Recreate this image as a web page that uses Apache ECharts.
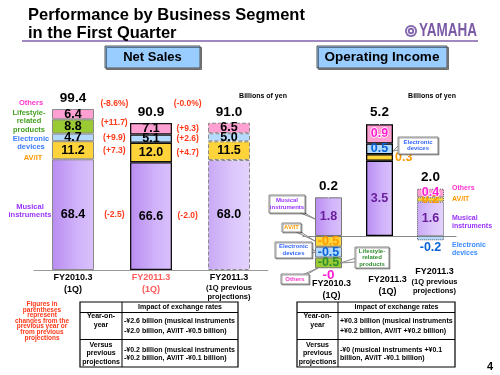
<!DOCTYPE html>
<html>
<head>
<meta charset="utf-8">
<script src="https://cdn.jsdelivr.net/npm/echarts@6/dist/echarts.min.js"></script>
<style>
  html, body { margin: 0; padding: 0; background: #fff; }
  #chart { width: 500px; height: 375px; }
</style>
</head>
<body>
<div id="chart"></div>
<script>
const FONT = '"Liberation Sans", Arial, Helvetica, sans-serif';

// periods on both charts
const periods = ['FY2010.3', 'FY2011.3', 'FY2011.3'];
const periodNotes = ['(1Q)', '(1Q)', '(1Q previous\nprojections)'];

// net sales, billions of yen (bottom to top)
const salesMusical = [68.4, 66.6, 68.0];
const salesAVIT = [11.2, 12.0, 11.5];
const salesElectronic = [4.7, 5.1, 5.0];
const salesLifestyle = [8.8, null, null];
const salesOthers = [6.4, 7.1, 6.5];
const salesTotals = [99.4, 90.9, 91.0];
// figures in parentheses: total, then the segment rows
const salesYoY = ['(-8.6%)', '(+11.7)', '(+9.9)', '(+7.3)', '(-2.5)'];
const salesVsProj = ['(-0.0%)', '(+9.3)', '(+2.6)', '(+4.7)', '(-2.0)'];

// operating income, billions of yen
const oiMusical = [1.8, 3.5, 1.6];
const oiAVIT = [-0.5, 0.3, 0.2];
const oiElectronic = [-0.5, 0.5, -0.2];
const oiLifestyle = [-0.5, null, null];
const oiOthers = [-0, 0.9, 0.4];
const oiTotals = [0.2, 5.2, 2.0];

// exchange rate notes under the charts
const fxSales = ['-¥2.6 billion (musical instruments\n-¥2.0 billion, AV/IT -¥0.5 billion)',
                 '-¥0.2 billion (musical instruments\n-¥0.2 billion, AV/IT -¥0.1 billion)'];
const fxIncome = ['+¥0.3 billion (musical instruments\n+¥0.2 billion, AV/IT +¥0.2 billion)',
                  '-¥0 (musical instruments +¥0.1\nbillion, AV/IT -¥0.1 billion)'];

const COL = {
  avit: '#ffd43b', elec: '#b4daff', life: '#9acb34', others: '#ff9fd2'
};
const purple = (light) => new echarts.graphic.LinearGradient(0, 0, 1, 0, [
  { offset: 0, color: light ? '#c9a8f6' : '#b98cf1' },
  { offset: 0.6, color: light ? '#dcc7fb' : '#d0b2fa' },
  { offset: 1, color: light ? '#e3d2fc' : '#d9c1fb' }
]);

const salesBorder = [
  { borderColor: '#8a8a8a', borderWidth: 1 },
  { borderColor: '#111', borderWidth: 1.3 },
  { borderColor: '#8a8a8a', borderWidth: 1, borderType: 'dashed' }
];
const oiBorder = [
  { borderColor: '#777', borderWidth: 1 },
  { borderColor: '#000', borderWidth: 1.3 },
  { borderColor: '#555', borderWidth: 1, borderType: 'dotted' }
];

function items(vals, colorFn, borders, extra) {
  return vals.map((v, i) => {
    if (v == null || Object.is(v, -0)) return '-';
    const it = { value: v, itemStyle: Object.assign({ color: colorFn(i) }, borders[i]) };
    if (extra && extra[i]) it.label = extra[i];
    return it;
  });
}
function posTop(arrs, cat) {
  return arrs.reduce((s, a) => s + (a[cat] > 0 ? a[cat] : 0), 0);
}
function negBottom(arrs, cat) {
  return arrs.reduce((s, a) => s + (a[cat] < 0 ? a[cat] : 0), 0);
}
function stackMid(arrs, k, cat) {
  let base = 0;
  for (let j = 0; j < k; j++) base += arrs[j][cat] || 0;
  return base + (arrs[k][cat] || 0) / 2;
}
const fmt = (v) => Object.is(v, -0) ? '-0' : v.toFixed(1);

const salesStack = [salesMusical, salesAVIT, salesElectronic, salesLifestyle, salesOthers];
const oiStack = [oiMusical, oiAVIT, oiElectronic, oiLifestyle, oiOthers];

// rows of the parenthesised figures follow the segments of the bar on their left
const headY = Math.max(...salesTotals) + 3.5;
const yoyY = [headY, stackMid(salesStack, 3, 0) + 2.5, stackMid(salesStack, 2, 0), stackMid(salesStack, 1, 0), stackMid(salesStack, 0, 0)];
const projY = [headY, stackMid(salesStack, 4, 1), stackMid(salesStack, 2, 1), stackMid(salesStack, 1, 1), stackMid(salesStack, 0, 1)];
const changeData = yoyY.map((y, k) => [1.03, y, salesYoY[k]])
  .concat(projY.map((y, k) => [1.97, y, salesVsProj[k]]));

const plain = { textBorderWidth: 0, textBorderColor: 'transparent', textShadowBlur: 0 };
const salesLabel = Object.assign({
  show: true, position: 'inside', fontFamily: FONT, fontWeight: 'bold', fontSize: 12.5, color: '#000',
  formatter: p => p.value.toFixed(1)
}, plain);
const oiLabel = (color, outline) => Object.assign({
  show: true, position: 'inside', fontFamily: FONT, fontWeight: 'bold', fontSize: 12.5, color: color,
  formatter: p => fmt(p.value)
}, plain, outline ? { textBorderColor: '#fff', textBorderWidth: 1.5 } : {});
const markLabel = (extra) => Object.assign({ show: true, fontFamily: FONT, fontWeight: 'bold', color: '#000' }, plain, extra);
const markItem = { color: '#fff', opacity: 1 };

const axisRich = {
  a: { fontFamily: FONT, fontWeight: 'bold', fontSize: 9, color: '#000', lineHeight: 12 },
  ar: { fontFamily: FONT, fontWeight: 'bold', fontSize: 9, color: '#ff5a5a', lineHeight: 12 },
  c: { fontFamily: FONT, fontWeight: 'bold', fontSize: 7.5, color: '#000', lineHeight: 8.5 }
};
function axisText(i) {
  const red = i === 1;
  const notes = periodNotes[i].split('\n');
  const first = `{${red ? 'ar' : 'a'}|${periods[i]}}`;
  if (notes.length === 1) return first + '\n' + `{${red ? 'ar' : 'a'}|${notes[0]}}`;
  return first + '\n' + notes.map(n => `{c|${n}}`).join('\n');
}
const catValues = periods.map((p, i) => p + ' ' + periodNotes[i]);

const series = [
  { type: 'bar', stack: 's', xAxisIndex: 0, yAxisIndex: 0, barWidth: 42,
    data: items(salesMusical, i => purple(i === 2), salesBorder), label: salesLabel },
  { type: 'bar', stack: 's', xAxisIndex: 0, yAxisIndex: 0, barWidth: 42,
    data: items(salesAVIT, () => COL.avit, salesBorder), label: salesLabel },
  { type: 'bar', stack: 's', xAxisIndex: 0, yAxisIndex: 0, barWidth: 42,
    data: items(salesElectronic, () => COL.elec, salesBorder), label: salesLabel },
  { type: 'bar', stack: 's', xAxisIndex: 0, yAxisIndex: 0, barWidth: 42,
    data: items(salesLifestyle, () => COL.life, salesBorder), label: salesLabel },
  { type: 'bar', stack: 's', xAxisIndex: 0, yAxisIndex: 0, barWidth: 42,
    data: items(salesOthers, () => COL.others, salesBorder), label: salesLabel },
  { type: 'scatter', xAxisIndex: 0, yAxisIndex: 0, symbolSize: 1, silent: true, z: 5,
    itemStyle: markItem,
    data: salesTotals.map((t, i) => [i, posTop(salesStack, i)]),
    label: markLabel({ position: 'top', distance: 3, fontSize: 13.5,
      formatter: p => salesTotals[p.dataIndex].toFixed(1) }) },
  { type: 'scatter', xAxisIndex: 1, yAxisIndex: 0, symbolSize: 1, silent: true, z: 5,
    itemStyle: markItem, data: changeData,
    label: markLabel({ position: 'inside', fontSize: 8.5, color: '#ff3a1a', formatter: p => p.data[2] }) },

  { type: 'bar', stack: 'o', xAxisIndex: 2, yAxisIndex: 1, barWidth: 27,
    data: items(oiMusical, i => purple(i === 2), oiBorder), label: oiLabel('#6a1f9c') },
  { type: 'bar', stack: 'o', xAxisIndex: 2, yAxisIndex: 1, barWidth: 27,
    data: items(oiAVIT, () => COL.avit, oiBorder, [null, { position: 'right', distance: 2 }, null]),
    label: oiLabel('#ff9900') },
  { type: 'bar', stack: 'o', xAxisIndex: 2, yAxisIndex: 1, barWidth: 27,
    data: items(oiElectronic, () => COL.elec, oiBorder, [null, null, { position: 'bottom', distance: 1 }]),
    label: oiLabel('#0a64d6') },
  { type: 'bar', stack: 'o', xAxisIndex: 2, yAxisIndex: 1, barWidth: 27,
    data: items(oiLifestyle, () => COL.life, oiBorder), label: oiLabel('#2f8f2f') },
  { type: 'bar', stack: 'o', xAxisIndex: 2, yAxisIndex: 1, barWidth: 27,
    data: items(oiOthers, () => COL.others, oiBorder), label: oiLabel('#ff1fd0', true) },
  { type: 'scatter', xAxisIndex: 2, yAxisIndex: 1, symbolSize: 1, silent: true, z: 5,
    itemStyle: markItem,
    data: oiTotals.map((t, i) => [i, posTop(oiStack, i)]),
    label: markLabel({ position: 'top', distance: 4, fontSize: 13.5,
      formatter: p => oiTotals[p.dataIndex].toFixed(1) }) },
  { type: 'scatter', xAxisIndex: 2, yAxisIndex: 1, symbolSize: 1, silent: true, z: 5,
    itemStyle: markItem,
    data: [[0, negBottom(oiStack, 0)]],
    label: markLabel({ position: 'bottom', distance: 0, fontSize: 13.5, color: '#ff1fd0',
      formatter: () => fmt(oiOthers[0]) }) }
];

// ---- graphic texts, boxes, callouts, tables ----
const g = [];
function txt(x, y, text, size, color, align, extra) {
  g.push({ type: 'text', x: x, y: y, silent: true, z: 10,
    style: Object.assign({ text: text, font: `bold ${size}px ${FONT}`, fill: color, align: align || 'left',
      verticalAlign: 'middle' }, extra || {}) });
}
function rect(x, y, w, h, style) {
  g.push({ type: 'rect', silent: true, z: 9, shape: { x: x, y: y, width: w, height: h }, style: style });
}
function line(x1, y1, x2, y2, color, w) {
  g.push({ type: 'line', silent: true, z: 9, shape: { x1: x1, y1: y1, x2: x2, y2: y2 },
    style: { stroke: color, lineWidth: w || 1 } });
}

txt(28, 15, 'Performance by Business Segment', 16.5, '#000');
txt(28, 33, 'in the First Quarter', 16.5, '#000');
line(22, 41, 478, 41, '#7f62a8', 1.5);

// logo
g.push({ type: 'circle', silent: true, z: 10, shape: { cx: 411, cy: 31, r: 6 }, style: { fill: '#8064ad' } });
g.push({ type: 'circle', silent: true, z: 11, shape: { cx: 411, cy: 31, r: 3.8 }, style: { fill: 'none', stroke: '#fff', lineWidth: 1 } });
g.push({ type: 'circle', silent: true, z: 11, shape: { cx: 411, cy: 31, r: 1.3 }, style: { fill: '#fff' } });
g.push({ type: 'text', x: 419, y: 31, scaleX: 0.75, silent: true, z: 10,
  style: { text: 'YAMAHA', font: `bold 18px ${FONT}`, fill: '#7b5aa6', verticalAlign: 'middle' } });

const boxStyle = { fill: '#99ccff', stroke: '#555', lineWidth: 1, shadowColor: 'rgba(0,0,0,0.45)', shadowOffsetX: 1.5, shadowOffsetY: 1.5 };
rect(105, 46, 95, 22, boxStyle);
txt(152.5, 57.5, 'Net Sales', 13, '#000', 'center');
rect(317, 46, 130, 22, boxStyle);
txt(382, 57.5, 'Operating Income', 13.5, '#000', 'center');

txt(263, 96, 'Billions of yen', 7, '#000', 'center');
txt(432, 96, 'Billions of yen', 7, '#000', 'center');

// net sales segment names
const lh = { lineHeight: 8.5 };
txt(31, 103, 'Others', 7.5, '#ff33cc', 'center');
txt(29, 121, 'Lifestyle-\nrelated\nproducts', 7.5, '#44a020', 'center', lh);
txt(31, 143, 'Electronic\ndevices', 7.5, '#3a7bff', 'center', lh);
txt(33, 158, 'AV/IT', 7.5, '#ff9900', 'center');
txt(30, 211, 'Musical\ninstruments', 7.5, '#9933ff', 'center', lh);

// operating income segment names next to projections bar
txt(452, 188, 'Others', 7, '#ff33cc');
txt(452, 199, 'AV/IT', 7, '#ff9900');
txt(452, 222, 'Musical\ninstruments', 7, '#9933ff', 'left', lh);
txt(452, 249, 'Electronic\ndevices', 7, '#3a8cff', 'left', lh);

// callouts
function callout(x, y, w, h, text, color, tail) {
  g.push({ type: 'polygon', silent: true, z: 9, shape: { points: tail },
    style: { fill: '#fff', stroke: '#888', lineWidth: 1 } });
  rect(x, y, w, h, { fill: '#fff', stroke: '#888', lineWidth: 1, shadowColor: 'rgba(0,0,0,0.35)', shadowOffsetX: 1, shadowOffsetY: 1 });
  txt(x + w / 2, y + h / 2, text, 6, color, 'center', { lineHeight: 6.5 });
}
callout(269, 195, 36, 18, 'Musical\ninstruments', '#9933ff', [[298, 212], [315, 219], [303, 212]]);
callout(282, 223, 19, 9, 'AV/IT', '#ff9900', [[294, 231], [315, 241], [299, 231]]);
callout(275, 242, 37, 16, 'Electronic\ndevices', '#3366ff', [[311, 248], [316, 252], [311, 253]]);
callout(355, 247, 34, 21, 'Lifestyle-\nrelated\nproducts', '#2f8f2f', [[356, 258], [340, 263], [356, 262]]);
callout(281, 274, 28, 10, 'Others', '#ff33cc', [[302, 275], [318, 268], [306, 275]]);
callout(398, 137, 40, 17, 'Electronic\ndevices', '#3366ff', [[399, 145], [393, 151], [399, 150]]);

// note in red
txt(42, 321, 'Figures in\nparentheses\nrepresent\nchanges from the\nprevious year or\nfrom previous\nprojections', 6.5, '#ff3a1a', 'center',
  { lineHeight: 5.6, stroke: '#fff', lineWidth: 0.6 });

// tables
function table(x0, xc, x1, notes) {
  rect(x0, 302, x1 - x0, 65, { fill: '#fff', stroke: '#000', lineWidth: 1.2 });
  line(x0, 312.5, x1, 312.5, '#000', 1);
  line(x0, 339.5, x1, 339.5, '#000', 1);
  line(xc, 302, xc, 367, '#000', 1);
  txt((xc + x1) / 2, 307.5, 'Impact of exchange rates', 7, '#000', 'center');
  txt((x0 + xc) / 2, 321, 'Year-on-\nyear', 7, '#000', 'center', { lineHeight: 9 });
  txt((x0 + xc) / 2, 353.5, 'Versus\nprevious\nprojections', 7, '#000', 'center', { lineHeight: 8.5 });
  txt(xc + 2, 326.5, notes[0], 7, '#000', 'left', { lineHeight: 10 });
  txt(xc + 2, 354, notes[1], 7, '#000', 'left', { lineHeight: 8.5 });
}
table(80, 122, 238, fxSales);
table(297, 338, 455, fxIncome);

txt(490, 367, '4', 11, '#000', 'center');

const option = {
  animation: false,
  textStyle: { fontFamily: FONT },
  grid: [
    { left: 34, right: 232, top: 92, bottom: 105, outerBoundsMode: 'none' },
    { left: 303, right: 44, top: 107, bottom: 96, outerBoundsMode: 'none' }
  ],
  xAxis: [
    { type: 'category', gridIndex: 0, data: catValues,
      axisLine: { lineStyle: { color: '#999', width: 1 } },
      axisTick: { inside: true, length: 3, lineStyle: { color: '#999' } },
      axisLabel: { margin: 2, interval: 0, formatter: (v, i) => axisText(i), rich: axisRich } },
    { type: 'value', gridIndex: 0, min: 0, max: 3, show: false },
    { type: 'category', gridIndex: 1, data: catValues,
      axisLine: { onZero: true, lineStyle: { color: '#888', width: 1 } },
      axisTick: { inside: true, length: 3, lineStyle: { color: '#888' } },
      axisLabel: { show: false } }
  ],
  yAxis: [
    { type: 'value', gridIndex: 0, min: 0, max: 110, show: false },
    { type: 'value', gridIndex: 1, min: -2, max: 6, show: false }
  ],
  series: series,
  graphic: g
};

const chart = echarts.init(document.getElementById('chart'));
chart.setOption(option);

// period labels of the operating income chart sit at different depths below its zero line
const oiLabelDrop = [54, 50, 44.5];
const oiLabelShift = [3, 8, 4];
const zeroY = chart.convertToPixel({ yAxisIndex: 1 }, 0);
periods.forEach((p, i) => {
  const x = chart.convertToPixel({ xAxisIndex: 2 }, i);
  g.push({ type: 'text', x: x + oiLabelShift[i], y: zeroY + oiLabelDrop[i], silent: true, z: 10,
    style: { text: axisText(i), rich: axisRich, align: 'center', verticalAlign: 'middle' } });
});
chart.setOption({ graphic: g });
</script>
</body>
</html>
